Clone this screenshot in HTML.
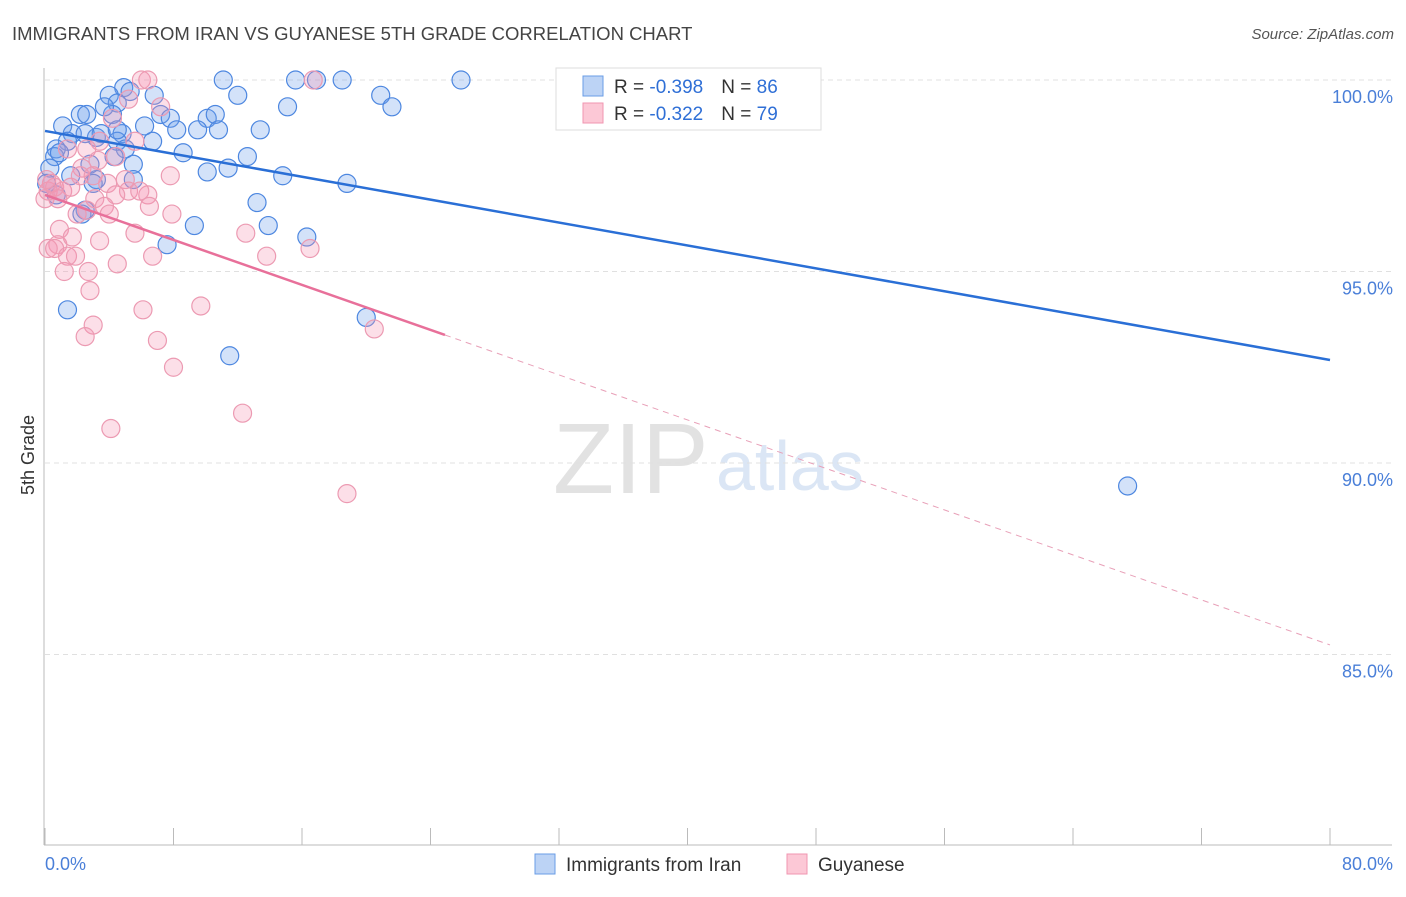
<!DOCTYPE html>
<html><head><meta charset="utf-8"><style>
body{margin:0;background:#fff;font-family:"Liberation Sans",sans-serif;}
svg text{font-family:"Liberation Sans",sans-serif;}
</style></head><body>
<svg id="chart" width="1406" height="892" xmlns="http://www.w3.org/2000/svg">
<text x="12" y="40" font-size="18.5" fill="#444">IMMIGRANTS FROM IRAN VS GUYANESE 5TH GRADE CORRELATION CHART</text>
<text x="1394" y="39" font-size="15" fill="#555" text-anchor="end" font-style="italic">Source: ZipAtlas.com</text>
<text x="553" y="493" font-size="100" fill="#e2e2e2" font-family="Liberation Serif,serif">ZIP</text>
<text x="716" y="490" font-size="70" fill="#dbe6f5">atlas</text>
<g id="grid"></g>
<line x1="44" y1="68" x2="44" y2="845" stroke="#bbb"/>
<line x1="44" y1="845" x2="1392" y2="845" stroke="#bbb"/>
<g id="xticks"></g>
<text transform="translate(34,455) rotate(-90)" font-size="18" fill="#333" text-anchor="middle">5th Grade</text>
<g id="pts"></g>
<g id="lines"></g>
<g>
<rect x="556" y="68" width="265" height="62" fill="#fff" stroke="#ddd"/>
<rect x="583" y="76" width="20" height="20" fill="#bcd3f5" stroke="#6a9de6"/>
<rect x="583" y="103" width="20" height="20" fill="#fcc8d6" stroke="#f096b0"/>
<text x="614" y="93" font-size="19" fill="#333">R = <tspan fill="#2f6fd6">-0.398</tspan><tspan dx="18">N = </tspan><tspan fill="#2f6fd6">86</tspan></text>
<text x="614" y="120" font-size="19" fill="#333">R = <tspan fill="#2f6fd6">-0.322</tspan><tspan dx="18">N = </tspan><tspan fill="#2f6fd6">79</tspan></text>
</g>
<text x="45" y="870" font-size="18" fill="#4a7fd8">0.0%</text>
<text x="1393" y="870" font-size="18" fill="#4a7fd8" text-anchor="end">80.0%</text>
<g><rect x="535" y="854" width="20" height="20" fill="#bcd3f5" stroke="#6a9de6"/><text x="566" y="871" font-size="19" fill="#333">Immigrants from Iran</text></g>
<g><rect x="787" y="854" width="20" height="20" fill="#fcc8d6" stroke="#f096b0"/><text x="818" y="871" font-size="19" fill="#333">Guyanese</text></g>
</svg>
<script>
const yTicks=[100,95,90,85];
const yTickLabels=["100.0%","95.0%","90.0%","85.0%"];
const xTicks=[0,8,16,24,32,40,48,56,64,72,80];
const blueX=[4.9,6.8,11.1,15.6,16.9,18.5,25.9,12.0,20.9,21.6,15.1,4.0,5.3,4.5,4.2,2.2,2.6,7.2,7.8,10.1,10.6,9.5,10.8,8.2,13.4,6.2,1.1,1.7,3.2,4.8,3.5,4.5,1.4,0.7,0.6,8.6,12.6,6.7,5.0,4.3,5.5,11.4,10.1,14.8,18.8,3.2,5.5,3.0,1.6,2.5,0.7,0.3,13.2,9.3,13.9,16.3,7.6,1.4,20.0,11.5,67.4,0.1,0.9,2.5,2.8,4.5,3.7,2.3];
const blueY=[99.8,99.6,100,100,100,100,100,99.6,99.6,99.3,99.3,99.6,99.7,99.4,99.1,99.1,99.1,99.1,99.0,99.0,99.1,98.7,98.7,98.7,98.7,98.8,98.8,98.6,98.5,98.6,98.6,98.4,98.4,98.2,98.0,98.1,98.0,98.4,98.2,98.0,97.8,97.7,97.6,97.5,97.3,97.4,97.4,97.3,97.5,96.6,97.0,97.7,96.8,96.2,96.2,95.9,95.7,94.0,93.8,92.8,89.4,97.3,98.1,98.6,97.8,98.7,99.3,96.5];
const pinkX=[6.0,6.4,16.7,5.2,7.2,4.2,5.6,3.4,2.6,1.4,4.4,3.3,2.3,0.4,0.2,0.6,1.1,1.6,2.2,3.0,3.9,5.0,5.2,6.4,5.9,4.4,3.1,3.7,2.6,2.0,4.0,6.5,7.9,7.8,0.9,0.8,1.7,3.4,5.6,12.5,0.2,0.6,1.4,1.9,4.5,6.7,13.8,16.5,1.2,2.7,2.8,6.1,9.7,3.0,2.5,7.0,8.0,20.5,12.3,4.1,18.8,0.0,0.1,0.8];
const pinkY=[100,100,100,99.5,99.3,99.0,98.4,98.4,98.2,98.2,98.0,97.9,97.7,97.3,97.1,97.2,97.1,97.2,97.5,97.5,97.3,97.4,97.1,97.0,97.1,97.0,96.9,96.7,96.6,96.5,96.5,96.7,96.5,97.5,96.1,95.7,95.9,95.8,96.0,96.0,95.6,95.6,95.4,95.4,95.2,95.4,95.4,95.6,95.0,95.0,94.5,94.0,94.1,93.6,93.3,93.2,92.5,93.5,91.3,90.9,89.2,96.9,97.4,96.9];
const blueLine=[98.67,92.69];
const pinkLine=[97.0,85.25];
const pinkSolidEnd=24.9;
const NS="http://www.w3.org/2000/svg";
const sx=v=>45+v/80*1285;
const sy=v=>80+(100-v)*38.3;
function mk(tag,attrs,parent){const e=document.createElementNS(NS,tag);for(const k in attrs)e.setAttribute(k,attrs[k]);document.getElementById(parent).appendChild(e);return e;}
yTicks.forEach((t,i)=>{
 const l=mk('line',{x1:45,x2:1392,y1:sy(t),y2:sy(t),stroke:'#e0e0e0','stroke-dasharray':'5,4'},'grid');
 
 
 const tx=mk('text',{x:1393,y:sy(t)+23,'font-size':18,fill:'#4a7fd8','text-anchor':'end'},'grid');
 tx.textContent=yTickLabels[i];
 
 
});
xTicks.forEach(t=>{
 const l=mk('line',{x1:sx(t),x2:sx(t),y1:828,y2:845,stroke:'#bbb'},'xticks');
 
 
});
blueX.forEach((x,i)=>{
 const c=mk('circle',{cx:sx(x),cy:sy(blueY[i]),r:9,fill:'rgba(110,160,235,0.3)',stroke:'#4d87e0','stroke-width':1.2},'pts');
 
 
});
pinkX.forEach((x,i)=>{
 const c=mk('circle',{cx:sx(x),cy:sy(pinkY[i]),r:9,fill:'rgba(245,150,180,0.3)',stroke:'#ec9ab2','stroke-width':1.2},'pts');
 
 
});
const pAt=x=>pinkLine[0]+(pinkLine[1]-pinkLine[0])*x/80;
let l=mk('line',{x1:sx(0),y1:sy(blueLine[0]),x2:sx(80),y2:sy(blueLine[1]),stroke:'#2a6fd6','stroke-width':2.5},'lines');


l=mk('line',{x1:sx(0),y1:sy(pinkLine[0]),x2:sx(pinkSolidEnd),y2:sy(pAt(pinkSolidEnd)),stroke:'#e8709a','stroke-width':2.5},'lines');


l=mk('line',{x1:sx(pinkSolidEnd),y1:sy(pAt(pinkSolidEnd)),x2:sx(80),y2:sy(pinkLine[1]),stroke:'#e8a0b8','stroke-width':1,'stroke-dasharray':'6,5'},'lines');


</script>
</body></html>
